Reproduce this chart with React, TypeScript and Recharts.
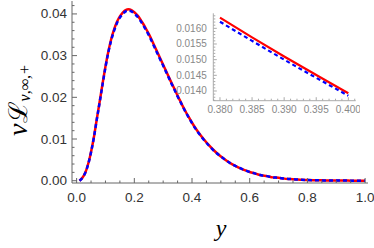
import React from 'react';
import { LineChart, Line, XAxis, YAxis } from 'recharts';

// main curve, sampled along y
const yGrid = [
  0.01, 0.02, 0.03, 0.04, 0.05, 0.06, 0.07, 0.08, 0.09, 0.1,
  0.11, 0.12, 0.13, 0.14, 0.15, 0.16, 0.17, 0.18, 0.19, 0.2,
  0.21, 0.22, 0.23, 0.24, 0.25, 0.26, 0.27, 0.28, 0.29, 0.3,
  0.31, 0.32, 0.33, 0.34, 0.35, 0.36, 0.37, 0.38, 0.39, 0.4,
  0.42, 0.44, 0.46, 0.48, 0.5, 0.52, 0.54, 0.56, 0.58, 0.6,
  0.62, 0.64, 0.66, 0.68, 0.7, 0.72, 0.74, 0.76, 0.78, 0.8,
  0.82, 0.84, 0.86, 0.88, 0.9, 0.92, 0.94, 0.96, 0.98, 1.0,
];
const exactVals = [
  0.0, 0.0007, 0.0019, 0.004, 0.0069, 0.0105, 0.0148, 0.019, 0.0233, 0.0274,
  0.031, 0.034, 0.0363, 0.0381, 0.0394, 0.0403, 0.0409, 0.0411, 0.0409, 0.0404,
  0.0397, 0.0388, 0.0377, 0.0365, 0.0352, 0.0338, 0.0323, 0.0308, 0.0293, 0.0278,
  0.0263, 0.0248, 0.0233, 0.0219, 0.0204, 0.019, 0.0176, 0.0163, 0.0151, 0.0139,
  0.0118, 0.01, 0.0084, 0.007, 0.0058, 0.0048, 0.0039, 0.0032, 0.0026, 0.0021,
  0.0017, 0.0013, 0.0011, 0.0008, 0.0007, 0.0005, 0.0004, 0.0003, 0.0002, 0.00016,
  0.00012, 0.00009, 0.00007, 0.00005, 0.00004, 0.00003, 0.00002, 0.00001, 0.00001, 0.0,
];
const approxVals = [
  0.0, 0.0007, 0.0019, 0.0039, 0.0068, 0.0104, 0.0147, 0.0188, 0.0231, 0.0272,
  0.0308, 0.0337, 0.036, 0.0378, 0.0391, 0.04, 0.0406, 0.0408, 0.0406, 0.0401,
  0.0394, 0.0385, 0.0374, 0.0362, 0.0349, 0.0335, 0.032, 0.0305, 0.029, 0.0276,
  0.0261, 0.0246, 0.0231, 0.0217, 0.0202, 0.0189, 0.0175, 0.0162, 0.015, 0.0138,
  0.0117, 0.0099, 0.0083, 0.0069, 0.0058, 0.0048, 0.0039, 0.0032, 0.0026, 0.0021,
  0.0017, 0.0013, 0.0011, 0.0008, 0.0007, 0.0005, 0.0004, 0.0003, 0.0002, 0.00016,
  0.00012, 0.00009, 0.00007, 0.00005, 0.00004, 0.00003, 0.00002, 0.00001, 0.00001, 0.0,
];
const xMajor = [0, 0.2, 0.4, 0.6, 0.8, 1.0];
const yMajor = [0, 0.01, 0.02, 0.03, 0.04];

// inset: zoom on 0.38..0.40
const insetGrid = [0.38, 0.385, 0.39, 0.395, 0.4];
const insetExact = [0.01634, 0.01571, 0.0151, 0.01451, 0.01393];
const insetApprox = [0.01621, 0.0156, 0.015, 0.01442, 0.01385];
const insetXMajor = [0.38, 0.385, 0.39, 0.395, 0.4];
const insetYMajor = [0.014, 0.0145, 0.015, 0.0155, 0.016];

// minor tick positions (frame decoration only)
const steps = (from: number, to: number, step: number) => {
  const out: number[] = [];
  for (let v = from; v <= to + step / 2; v += step) out.push(+v.toFixed(6));
  return out;
};

const mainData = yGrid.map((y, i) => ({ y, exact: exactVals[i], approx: approxVals[i] }));
const insetData = insetGrid.map((y, i) => ({ y, exact: insetExact[i], approx: insetApprox[i] }));

type TickOpts = {
  majors: number[];
  major: number;
  minor: number;
  stroke: string;
  digits?: number;
  gap?: number;
  font?: number;
  color?: string;
};

const makeTick = (side: 'bottom' | 'top' | 'left' | 'right', o: TickOpts) => (p: any) => {
  const { x, y } = p;
  const v = p.payload.value;
  const isMajor = o.majors.some((m) => Math.abs(m - v) < 1e-9);
  const len = isMajor ? o.major : o.minor;
  let x2 = x, y2 = y;
  if (side === 'bottom') y2 = y - len;
  if (side === 'top') y2 = y + len;
  if (side === 'left') x2 = x + len;
  if (side === 'right') x2 = x - len;
  let label = null;
  if (isMajor && o.digits != null) {
    const txt = v.toFixed(o.digits);
    const style = { fontFamily: '"Liberation Sans", Arial, sans-serif', fontSize: o.font, fill: o.color };
    if (side === 'bottom')
      label = <text x={x} y={y + (o.gap || 0)} textAnchor="middle" dominantBaseline="central" style={style}>{txt}</text>;
    if (side === 'left')
      label = <text x={x - (o.gap || 0)} y={y} textAnchor="end" dominantBaseline="central" style={style}>{txt}</text>;
  }
  return (
    <g>
      <line x1={x} y1={y} x2={x2} y2={y2} stroke={o.stroke} strokeWidth={1} />
      {label}
    </g>
  );
};

const frame = '#666';
const insetFrame = '#aaa';
const serif = '"Liberation Serif", "DejaVu Serif", serif';

const YLabel = () => (
  <text
    transform="rotate(-90, 27, 100)"
    x={27}
    y={100}
    textAnchor="middle"
    fill="#000"
  >
    <tspan fontFamily={serif} fontSize={28} fontStyle="italic">ν</tspan>
    <tspan fontFamily={serif} fontSize={26}>ℒ</tspan>
    <tspan fontFamily={serif} fontSize={16} fontStyle="italic" dy={3}>ν,∞,+</tspan>
  </text>
);

const XLabel = () => (
  <text x={221} y={236} textAnchor="middle" fontFamily={serif} fontStyle="italic" fontSize={24} fill="#000">
    y
  </text>
);

const App = () => {
  const mainX = steps(0, 1, 0.05);
  const mainY = steps(0, 0.042, 0.002);
  const inX = steps(0.379, 0.401, 0.001);
  const inY = steps(0.0137, 0.0164, 0.0001);

  return (
    <div style={{ position: 'absolute', left: 0, top: 0, width: 374, height: 248, background: '#fff' }}>
      <LineChart width={374} height={248} data={mainData} margin={{ top: 1, right: 6, left: 0, bottom: 0 }}>
        <XAxis
          dataKey="y"
          type="number"
          domain={[-0.016, 1.01]}
          allowDataOverflow
          ticks={mainX}
          interval={0}
          height={65}
          stroke={frame}
          tickLine={false}
          tickSize={0}
          tickMargin={0}
          tick={makeTick('bottom', { majors: xMajor, major: 5, minor: 2.5, stroke: frame, digits: 1, gap: 14, font: 13.5, color: '#333' })}
          label={{ content: () => <XLabel /> }}
        />
        <XAxis
          xAxisId="top"
          orientation="top"
          dataKey="y"
          type="number"
          domain={[-0.016, 1.01]}
          allowDataOverflow
          ticks={mainX}
          interval={0}
          height={0}
          stroke={frame}
          tickLine={false}
          tickSize={0}
          tickMargin={0}
          tick={makeTick('top', { majors: xMajor, major: 5, minor: 2.5, stroke: frame })}
        />
        <YAxis
          type="number"
          domain={[-0.00055, 0.0431]}
          allowDataOverflow
          ticks={mainY}
          interval={0}
          width={72}
          stroke={frame}
          tickLine={false}
          tickSize={0}
          tickMargin={0}
          tick={makeTick('left', { majors: yMajor, major: 5, minor: 2.5, stroke: frame, digits: 2, gap: 5, font: 13.5, color: '#333' })}
          label={{ content: () => <YLabel /> }}
        />
        <YAxis
          yAxisId="right"
          orientation="right"
          type="number"
          domain={[-0.00055, 0.0431]}
          allowDataOverflow
          ticks={mainY}
          interval={0}
          width={0}
          stroke={frame}
          tickLine={false}
          tickSize={0}
          tickMargin={0}
          tick={makeTick('right', { majors: yMajor, major: 5, minor: 2.5, stroke: frame })}
        />
        <Line type="monotone" dataKey="exact" stroke="#ff0000" strokeWidth={2.5} dot={false} isAnimationActive={false} />
        <Line type="monotone" dataKey="approx" stroke="#0000ff" strokeWidth={2.5} strokeDasharray="4 3" dot={false} isAnimationActive={false} />
      </LineChart>

      <div style={{ position: 'absolute', left: 170, top: 10 }}>
        <LineChart width={190} height={110} data={insetData} margin={{ top: 3.3, right: 4.3, left: 0, bottom: 0 }}>
          <XAxis
            dataKey="y"
            type="number"
            domain={[0.37896, 0.40115]}
            allowDataOverflow
            ticks={inX}
            interval={0}
            height={19.3}
            stroke={insetFrame}
            tickLine={false}
            tickSize={0}
            tickMargin={0}
            tick={makeTick('bottom', { majors: insetXMajor, major: 3.5, minor: 2, stroke: insetFrame, digits: 3, gap: 8.5, font: 10, color: '#888' })}
          />
          <XAxis
            xAxisId="top"
            orientation="top"
            dataKey="y"
            type="number"
            domain={[0.37896, 0.40115]}
            allowDataOverflow
            ticks={inX}
            interval={0}
            height={0}
            stroke={insetFrame}
            tickLine={false}
            tickSize={0}
            tickMargin={0}
            tick={makeTick('top', { majors: insetXMajor, major: 3.5, minor: 2, stroke: insetFrame })}
          />
          <YAxis
            type="number"
            domain={[0.01369, 0.01648]}
            allowDataOverflow
            ticks={inY}
            interval={0}
            width={43.3}
            stroke={insetFrame}
            tickLine={false}
            tickSize={0}
            tickMargin={0}
            tick={makeTick('left', { majors: insetYMajor, major: 3.5, minor: 2, stroke: insetFrame, digits: 4, gap: 6.5, font: 10, color: '#888' })}
          />
          <YAxis
            yAxisId="right"
            orientation="right"
            type="number"
            domain={[0.01369, 0.01648]}
            allowDataOverflow
            ticks={inY}
            interval={0}
            width={0}
            stroke={insetFrame}
            tickLine={false}
            tickSize={0}
            tickMargin={0}
            tick={makeTick('right', { majors: insetYMajor, major: 3.5, minor: 2, stroke: insetFrame })}
          />
          <Line type="monotone" dataKey="exact" stroke="#ff0000" strokeWidth={2.2} dot={false} isAnimationActive={false} />
          <Line type="monotone" dataKey="approx" stroke="#0000ff" strokeWidth={2.2} strokeDasharray="4 3" dot={false} isAnimationActive={false} />
        </LineChart>
      </div>
    </div>
  );
};

export default App;
